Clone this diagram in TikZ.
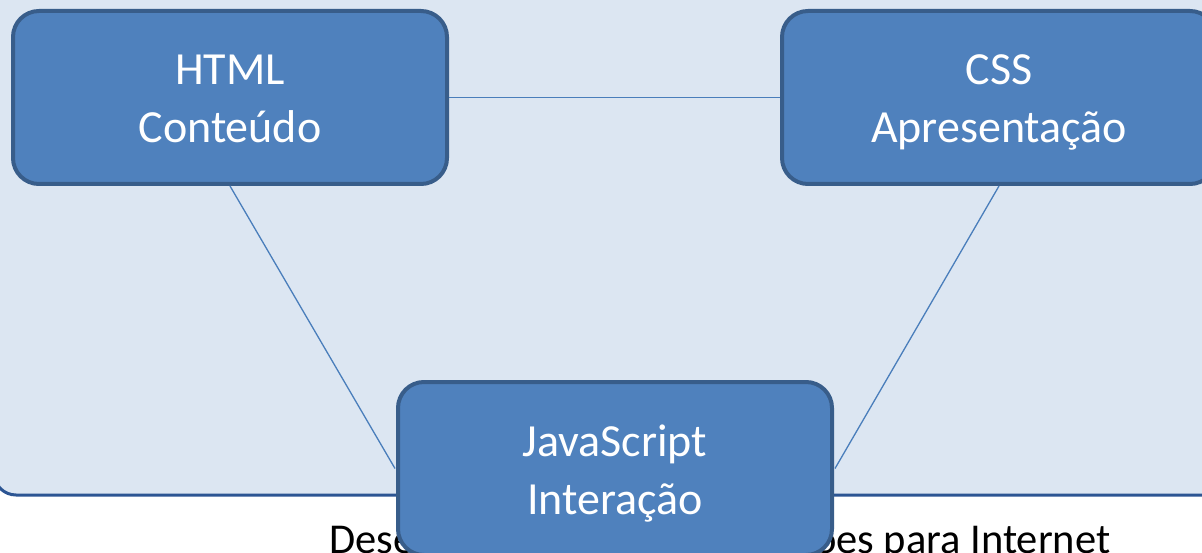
\documentclass[tikz,border=0pt]{standalone}
\usepackage{fontspec}
\setmainfont{Carlito}
\definecolor{bgfill}{HTML}{DCE6F2}
\definecolor{bgdraw}{HTML}{2C5593}
\definecolor{boxfill}{HTML}{4F81BD}
\definecolor{boxdraw}{HTML}{385D8A}
\definecolor{linkcol}{HTML}{4A7EBB}
\begin{document}
\begin{tikzpicture}[x=1pt,y=-1pt,
  topicbox/.style={draw=boxdraw, fill=boxfill, line width=4pt, rounded corners=26pt,
    minimum width=434pt, minimum height=173pt, inner sep=0pt, align=center,
    text=white, font=\fontsize{46}{58}\selectfont, text height=91pt, text depth=0pt},
  link/.style={draw=linkcol, line width=1.3pt},
  caption/.style={font=\fontsize{42.5}{50}\selectfont, text=black, anchor=base, inner sep=0pt}]
\useasboundingbox (0,0) rectangle (1202,553);
\clip (0,0) rectangle (1202,553);
% background panel
\draw[fill=bgfill, draw=bgdraw, line width=3pt, rounded corners=22pt] (-6,-40) rectangle (1240,495);
% boxes
\node[topicbox] (html) at (230,97.5) {HTML\\Conteúdo};
\node[topicbox] (css) at (999,97.5) {CSS\\Apresentação};
% caption (partly hidden)
\node[caption] (cap) at (720,553) {Desenvolvimento de Aplicações para Internet};
% links
\draw[link] (html.east) -- (css.west);
\coordinate (jsw) at (395,468.5);
\coordinate (jse) at (835,468.5);
\draw[link] (html.south) -- (jsw);
\draw[link] (css.south) -- (jse);
\node[topicbox] (js) at (615,468.5) {JavaScript\\Interação};
\end{tikzpicture}
\end{document}
